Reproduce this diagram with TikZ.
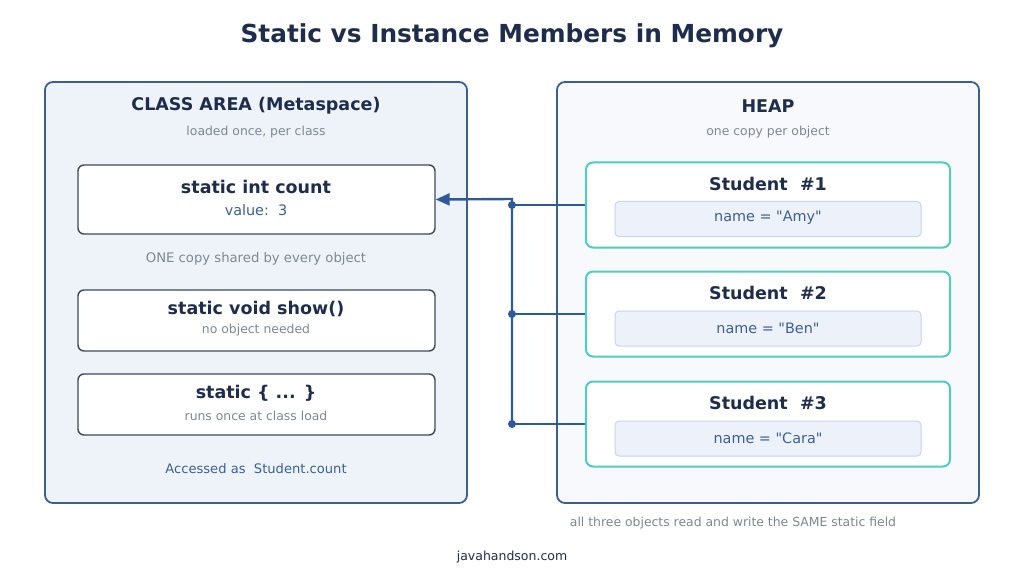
\documentclass[tikz,border=0pt]{standalone}
\usepackage{fontspec}
\setmainfont{DejaVu Sans}[Ligatures=TeXOff]
\usetikzlibrary{arrows.meta}

\definecolor{navy}{HTML}{1F2D4D}
\definecolor{frame}{HTML}{3B5E94}
\definecolor{leftbg}{HTML}{EEF3FA}
\definecolor{rightbg}{HTML}{F7F9FC}
\definecolor{slate}{HTML}{3D4A5C}
\definecolor{mute}{HTML}{7F8793}
\definecolor{bluetxt}{HTML}{3D5F93}
\definecolor{teal}{HTML}{4ECDC0}
\definecolor{fieldbg}{HTML}{EDF2FA}
\definecolor{fieldln}{HTML}{C8D5EA}
\definecolor{wire}{HTML}{2E5A9C}

\begin{document}
\begin{tikzpicture}[x=1pt,y=-1pt,
	panel/.style={draw=frame, line width=1.8pt, rounded corners=8pt, inner sep=0pt},
	membox/.style={draw=slate, line width=1.4pt, fill=white, rounded corners=6pt, minimum width=357pt, inner sep=0pt},
	objbox/.style={draw=teal, line width=2pt, fill=white, rounded corners=7pt, minimum width=364pt, minimum height=85pt, inner sep=0pt},
	fieldbox/.style={draw=fieldln, line width=1pt, fill=fieldbg, rounded corners=4pt, minimum width=306pt, minimum height=35pt, inner sep=0pt},
	head/.style={font=\fontsize{17.5}{20}\selectfont\bfseries, text=navy, inner sep=0pt},
	title/.style={font=\fontsize{17.5}{20}\selectfont\bfseries, text=navy, inner sep=0pt},
	note/.style={font=\fontsize{12.4}{14}\selectfont, text=mute, inner sep=0pt},
	val/.style={font=\fontsize{14.4}{16}\selectfont, text=bluetxt, inner sep=0pt},
	link/.style={draw=wire, line width=2.4pt},
	dot/.style={circle, fill=wire, inner sep=0pt, minimum size=8pt}]
	\useasboundingbox (0,0) rectangle (1024,585);
	\fill[white] (0,0) rectangle (1024,585);

	\node (ttl) at (512,35.5) [font=\fontsize{24.8}{28}\selectfont\bfseries, text=navy, inner sep=0pt] {Static vs Instance Members in Memory};

	% class area
	\node (cls) at (256,292.5) [panel, fill=leftbg, minimum width=422pt, minimum height=421pt] {};
	\node (clsh) at (256,105.5) [head] {CLASS AREA (Metaspace)};
	\node (clsn) at (256,132) [note] {loaded once, per class};
	\node (cnt) at (256.5,199.5) [membox, minimum height=69pt] {};
	\node (cntt) at (256,186.5) [title] {static int count};
	\node (cntv) at (256,210) [val] {value:\ \ 3};
	\node (shared) at (256,258.5) [note, font=\fontsize{13.2}{15}\selectfont] {ONE copy shared by every object};
	\node (shw) at (256.5,320.5) [membox, minimum height=61pt] {};
	\node (shwt) at (256,309.5) [title] {static void show()};
	\node (shwn) at (256,330.5) [note] {no object needed};
	\node (blk) at (256.5,404.5) [membox, minimum height=61pt] {};
	\node (blkt) at (256,393.5) [title] {static \{ ... \}};
	\node (blkn) at (256,415.5) [note] {runs once at class load};
	\node (acc) at (256,468.5) [val, font=\fontsize{13.1}{15}\selectfont] {Accessed as\ \ Student.count};

	% heap
	\node (heap) at (768,292.5) [panel, fill=rightbg, minimum width=422pt, minimum height=421pt] {};
	\node (heaph) at (768,106.5) [head] {HEAP};
	\node (heapn) at (768,132) [note] {one copy per object};
	\node (s1) at (768,205) [objbox] {};
	\node (s1t) at (768,183.5) [title] {Student\ \ \#1};
	\node (f1) at (768,219) [fieldbox] {};
	\node (f1t) at (768,217.5) [val] {name = "Amy"};
	\node (s2) at (768,314) [objbox] {};
	\node (s2t) at (768,292.5) [title] {Student\ \ \#2};
	\node (f2) at (768,328.5) [fieldbox] {};
	\node (f2t) at (768,328.5) [val] {name = "Ben"};
	\node (s3) at (768,424) [objbox] {};
	\node (s3t) at (768,402.5) [title] {Student\ \ \#3};
	\node (f3) at (768,438.5) [fieldbox] {};
	\node (f3t) at (768,438.5) [val] {name = "Cara"};

	% shared field links
	\coordinate (bus) at (512,199);
	\draw[link] (s1.west) -- (s1.west -| bus);
	\draw[link] (s2.west) -- (s2.west -| bus);
	\draw[link] (s3.west) -- (s3.west -| bus);
	\draw[link, -{Triangle[length=14pt, width=12pt]}] (s3.west -| bus) -- (bus) -- (cnt.east);
	\node (d1) at (s1.west -| bus) [dot] {};
	\node (d2) at (s2.west -| bus) [dot] {};
	\node (d3) at (s3.west -| bus) [dot] {};

	\node (foot) at (733,523.5) [note] {all three objects read and write the SAME static field};
	\node (site) at (512,557) [font=\fontsize{12.5}{14}\selectfont, text=navy, inner sep=0pt] {javahandson.com};
\end{tikzpicture}
\end{document}
